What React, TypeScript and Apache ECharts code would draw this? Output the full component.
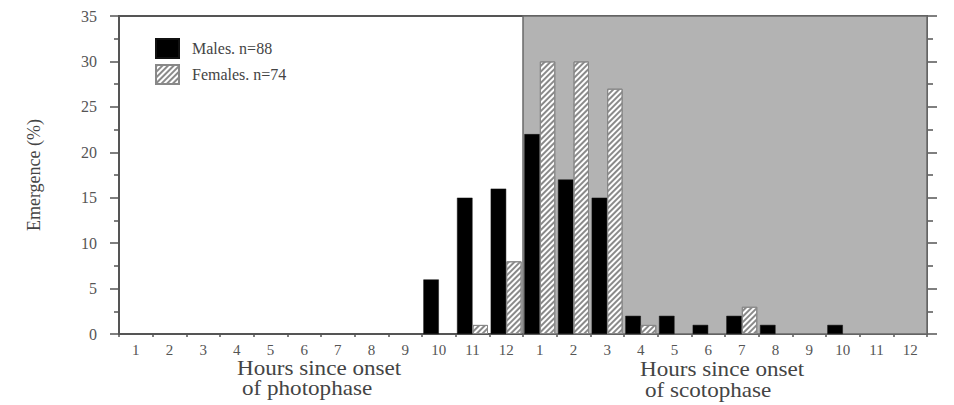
import React, { useEffect, useRef } from 'react';
import * as echarts from 'echarts';

// Tick labels (hours)
const photoHours = ['1', '2', '3', '4', '5', '6', '7', '8', '9', '10', '11', '12'];
const scotoHours = ['1', '2', '3', '4', '5', '6', '7', '8', '9', '10', '11', '12'];

// Emergence (%) per hour
const malesPhoto = [0, 0, 0, 0, 0, 0, 0, 0, 0, 6, 15, 16];
const malesScoto = [22, 17, 15, 2, 2, 1, 2, 1, 0, 1, 0, 0];
const femalesPhoto = [0, 0, 0, 0, 0, 0, 0, 0, 0, 0, 1, 8];
const femalesScoto = [30, 30, 27, 1, 0, 0, 3, 0, 0, 0, 0, 0];

const maleName = 'Males. n=88';
const femaleName = 'Females. n=74';
const photoTitle = ['Hours since onset', 'of photophase'];
const scotoTitle = ['Hours since onset', 'of scotophase'];

const FONT = "'Liberation Serif', 'Times New Roman', serif";
const AXIS = '#555';

export default function App() {
  const ref = useRef<HTMLDivElement>(null);
  useEffect(() => {
    if (!ref.current) return;
    const chart = echarts.init(ref.current, null, { renderer: 'svg' });
    const tickLabels = [...photoHours, ...scotoHours];
    const categories = [...photoHours.map((h) => 'P' + h), ...scotoHours.map((h) => 'S' + h)];
    const toBar = (v: number) => (v === 0 ? null : v);
    const males = [...malesPhoto, ...malesScoto].map(toBar);
    const females = [...femalesPhoto, ...femalesScoto].map(toBar);

    const titleText = (text: string, x: number, y: number) => ({
      type: 'text',
      x,
      y,
      scaleX: 1.1,
      style: { text, fontSize: 21, fontFamily: FONT, fill: '#444' },
    });

    chart.setOption({
      animation: false,
      backgroundColor: '#fff',
      grid: {
        left: 119,
        right: 27,
        top: 16,
        bottom: 71,
        show: true,
        borderColor: AXIS,
        borderWidth: 2,
        backgroundColor: 'transparent',
      },
      legend: {
        data: [maleName, femaleName],
        orient: 'vertical',
        left: 150,
        top: 33,
        itemWidth: 23,
        itemHeight: 19,
        itemGap: 5,
        icon: 'rect',
        textStyle: { fontFamily: FONT, fontSize: 16, color: '#444', padding: [0, 0, 0, 8] },
      },
      xAxis: [
        {
          type: 'category',
          data: categories,
          boundaryGap: true,
          axisLine: { lineStyle: { color: AXIS, width: 2 } },
          axisTick: { show: true, length: 3, lineStyle: { color: AXIS, width: 1.5 } },
          axisLabel: {
            interval: 0,
            margin: 8,
            fontSize: 15,
            fontFamily: FONT,
            color: '#555',
            formatter: (_v: string, i: number) => tickLabels[i],
          },
          splitLine: { show: false },
        },
        { type: 'value', min: 0, max: 24, show: false },
      ],
      yAxis: [
        {
          type: 'value',
          min: 0,
          max: 35,
          interval: 5,
          name: 'Emergence (%)',
          nameLocation: 'middle',
          nameGap: 76,
          nameTextStyle: { fontFamily: FONT, fontSize: 18, color: '#444' },
          axisLine: { show: true, lineStyle: { color: AXIS, width: 2 } },
          axisTick: { show: true, length: 9, lineStyle: { color: AXIS, width: 1.5 } },
          minorTick: { show: true, splitNumber: 2, length: 5, lineStyle: { color: AXIS, width: 1.5 } },
          axisLabel: { margin: 22, fontSize: 16, fontFamily: FONT, color: '#555' },
          splitLine: { show: false },
        },
        {
          type: 'value',
          position: 'right',
          min: 0,
          max: 35,
          interval: 5,
          axisLine: { show: true, lineStyle: { color: AXIS, width: 2 } },
          axisTick: { show: true, length: 10, lineStyle: { color: AXIS, width: 1.5 } },
          minorTick: { show: true, splitNumber: 2, length: 6, lineStyle: { color: AXIS, width: 1.5 } },
          axisLabel: { show: false },
          splitLine: { show: false },
        },
      ],
      series: [
        {
          type: 'scatter',
          name: 'scotophase',
          xAxisIndex: 1,
          yAxisIndex: 0,
          data: [[12, 0]],
          symbolSize: 0,
          silent: true,
          label: { show: false },
          z: 1,
          markArea: {
            silent: true,
            label: { show: false },
            itemStyle: { color: '#b3b3b3', borderColor: '#6a6a6a', borderWidth: 1.5 },
            data: [[{ xAxis: 12, yAxis: 35 }, { xAxis: 24, yAxis: 0 }]],
          },
        },
        {
          type: 'bar',
          name: maleName,
          data: males,
          barGap: '0%',
          barCategoryGap: '8%',
          z: 3,
          label: { show: false },
          itemStyle: { color: '#000', borderColor: '#111', borderWidth: 0.5 },
        },
        {
          type: 'bar',
          name: femaleName,
          data: females,
          barGap: '0%',
          barCategoryGap: '8%',
          z: 3,
          label: { show: false },
          itemStyle: {
            color: '#fff',
            borderColor: '#888',
            borderWidth: 1,
            decal: {
              symbol: 'rect',
              symbolSize: 1,
              dashArrayX: [1, 0],
              dashArrayY: [2, 2],
              rotation: -Math.PI / 4,
              color: '#8a8a8a',
            },
          },
        },
      ],
      graphic: [
        titleText(photoTitle[0], 237, 357),
        titleText(photoTitle[1], 242, 377),
        titleText(scotoTitle[0], 640, 358),
        titleText(scotoTitle[1], 645, 379),
      ],
    });
    return () => chart.dispose();
  }, []);
  return (
    <div
      ref={ref}
      style={{ position: 'absolute', left: 0, top: 0, width: 954, height: 405 }}
    />
  );
}
